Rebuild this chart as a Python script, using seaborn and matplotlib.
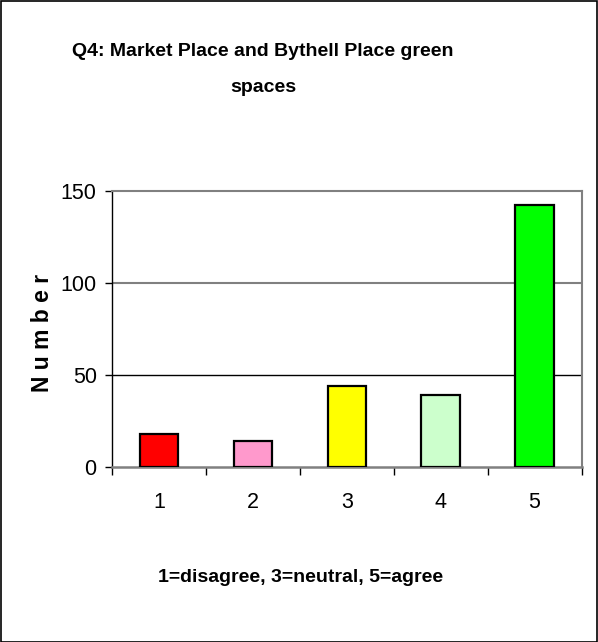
import matplotlib
matplotlib.use("Agg")
import matplotlib.pyplot as plt
import seaborn as sns
import pandas as pd

categories = ["1", "2", "3", "4", "5"]
values = [18, 14, 44, 39, 142]
bar_colors = ["#FF0000", "#FF99CC", "#FFFF00", "#CCFFCC", "#00FF00"]
yticks = [0, 50, 100, 150]

sns.set_theme(style="white")
plt.rcParams['font.family'] = ['Liberation Sans', 'DejaVu Sans']
plt.rcParams['text.color'] = 'black'
plt.rcParams['axes.labelcolor'] = 'black'
plt.rcParams['xtick.color'] = 'black'
plt.rcParams['ytick.color'] = 'black'

df = pd.DataFrame({"cat": categories, "val": values})

fig = plt.figure(figsize=(5.98, 6.42), dpi=100)
ax = fig.add_axes([112/598, 1-467.3/642, (581.5-112)/598, (467.3-190.7)/642])

sns.barplot(data=df, x="cat", y="val", hue="cat", palette=bar_colors, legend=False,
            width=0.41, edgecolor="black", linewidth=1.6, ax=ax, saturation=1, zorder=3)

ax.set_ylim(0, 150)
ax.set_xlim(-0.5, 4.5)
ax.set_yticks(yticks)
ax.set_yticklabels([str(t) for t in yticks], fontsize=15.5)
ax.tick_params(axis='x', length=0, labelsize=15.5, pad=18, labelcolor='black')
ax.set_xticks([-0.5 + i for i in range(6)], minor=True)
ax.tick_params(axis='x', which='minor', length=6, width=1, color='black', direction='out', bottom=True)
ax.tick_params(axis='y', length=5, width=1, color='black', direction='out', left=True, pad=6,
               labelcolor='black')

# gridlines
ax.axhline(100, color="#808080", lw=1.5, zorder=1)
ax.axhline(50, color="black", lw=1.0, zorder=1)

for s in ["top", "right"]:
    ax.spines[s].set_color("#808080")
    ax.spines[s].set_linewidth(1.5)
ax.spines["bottom"].set_color("#808080")
ax.spines["bottom"].set_linewidth(1.8)
ax.spines["left"].set_color("black")
ax.spines["left"].set_linewidth(1.0)

ax.set_xlabel("")
ax.set_ylabel("")

fig.text(263/598, 1-52/642, "Q4: Market Place and Bythell Place green", ha="center", va="center",
         fontsize=14, fontweight="bold", color="black")
fig.text(263/598, 1-88/642, "spaces", ha="center", va="center", fontsize=14, fontweight="bold",
         color="black")
fig.text(301/598, 1-577/642, "1=disagree, 3=neutral, 5=agree", ha="center", va="center",
         fontsize=14, fontweight="bold", color="black")
fig.text(43/598, 1-333/642, "N u m b e r", ha="center", va="center", rotation=90,
         fontsize=16.5, fontweight="bold", color="black")

# figure border
fig.patches.append(plt.Rectangle((0.5/598, 0.5/642), 596.5/598, 640.5/642, transform=fig.transFigure,
                                 fill=False, edgecolor="black", lw=1.2))

fig.savefig("out.png", dpi=100)
